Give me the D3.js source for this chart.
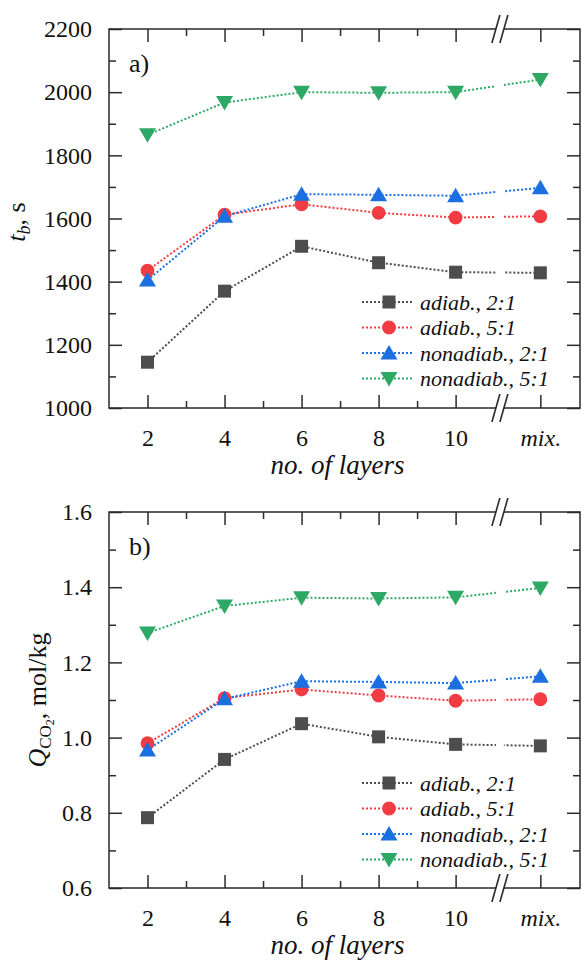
<!DOCTYPE html>
<html>
<head>
<meta charset="utf-8">
<script src="https://cdn.jsdelivr.net/npm/d3@7"></script>
<style>
  body { margin: 0; background: #fff; }
  svg, svg text { font-family: "Liberation Serif", "Times New Roman", Times, "DejaVu Serif", serif !important; fill: #111; }
</style>
</head>
<body>
<div id="chart"></div>
<script>
// categories (no. of layers), "mix." sits after the axis break
var layers = [2, 4, 6, 8, 10, 12.2]
var layerLabels = ["2", "4", "6", "8", "10", "mix."]
var minorLayers = [3, 5, 7, 9]

var seriesNames = ["adiab., 2:1", "adiab., 5:1", "nonadiab., 2:1", "nonadiab., 5:1"]
var seriesColors = ["#4d4d4d", "#f03c42", "#1b6fe0", "#2ea865"]
var seriesShapes = ["square", "circle", "triangle", "triangleDown"]

// panel a) breakthrough time t_b, s
var tbAdiab21 = [1145, 1370, 1512, 1460, 1430, 1428]
var tbAdiab51 = [1435, 1612, 1645, 1618, 1603, 1607]
var tbNonadiab21 = [1405, 1607, 1677, 1675, 1672, 1697]
var tbNonadiab51 = [1865, 1967, 2000, 1998, 2000, 2040]

// panel b) Q_CO2, mol/kg
var qAdiab21 = [0.787, 0.942, 1.037, 1.002, 0.982, 0.978]
var qAdiab51 = [0.985, 1.105, 1.128, 1.112, 1.098, 1.102]
var qNonadiab21 = [0.967, 1.103, 1.150, 1.148, 1.145, 1.163]
var qNonadiab51 = [1.278, 1.350, 1.372, 1.370, 1.373, 1.398]

var tbTicks = [1000, 1200, 1400, 1600, 1800, 2000, 2200]
var qTicks = [0.6, 0.8, 1.0, 1.2, 1.4, 1.6]

var serif = "'Liberation Serif', 'Times New Roman', Times, 'DejaVu Serif', serif"
var width = 582
var height = 961
var left = 109, right = 580
var breakAt = 11.15

var svg = d3.select("#chart").append("svg")
  .attr("width", width)
  .attr("height", height)
  .attr("font-family", serif)

var x = d3.scaleLinear().domain([1, 13.23]).range([left, right])

function drawPanel(opt) {
  var y = d3.scaleLinear().domain(opt.domain).range([opt.bottom, opt.top])
  var g = svg.append("g")
  var axisColor = "#2a2a2a"

  // minor ticks
  var minorY = d3.range(opt.domain[0] + opt.minor, opt.domain[1], opt.minor * 2)
  g.append("g").attr("transform", "translate(" + left + ",0)")
    .call(d3.axisLeft(y).tickValues(minorY).tickSize(-7).tickFormat(""))
  g.append("g").attr("transform", "translate(" + right + ",0)")
    .call(d3.axisRight(y).tickValues(minorY).tickSize(-7).tickFormat(""))
  g.append("g").attr("transform", "translate(0," + opt.bottom + ")")
    .call(d3.axisBottom(x).tickValues(minorLayers).tickSize(-7).tickFormat(""))
  g.append("g").attr("transform", "translate(0," + opt.top + ")")
    .call(d3.axisTop(x).tickValues(minorLayers).tickSize(-7).tickFormat(""))

  // major ticks
  g.append("g").attr("class", "yl").attr("transform", "translate(" + left + ",0)")
    .call(d3.axisLeft(y).tickValues(opt.ticks).tickSize(-13).tickPadding(17).tickFormat(opt.fmt))
  g.append("g").attr("transform", "translate(" + right + ",0)")
    .call(d3.axisRight(y).tickValues(opt.ticks).tickSize(-13).tickFormat(""))
  g.append("g").attr("class", "xl").attr("transform", "translate(0," + opt.bottom + ")")
    .call(d3.axisBottom(x).tickValues(layers).tickSize(-13).tickPadding(21)
      .tickFormat(function(d, i) { return layerLabels[i]; }))
  g.append("g").attr("transform", "translate(0," + opt.top + ")")
    .call(d3.axisTop(x).tickValues(layers).tickSize(-13).tickFormat(""))

  g.selectAll(".domain").remove()
  g.selectAll("g").attr("font-family", serif)
  g.selectAll(".tick line").attr("stroke", axisColor).attr("stroke-width", 1.5)
  g.selectAll(".yl text, .xl text").style("font-size", "24px").attr("fill", "#111")
  g.selectAll(".xl .tick").filter(function(d) { return d == 12.2; })
    .select("text").style("font-style", "italic")

  // frame
  g.append("rect")
    .attr("x", left).attr("y", opt.top)
    .attr("width", right - left).attr("height", opt.bottom - opt.top)
    .attr("fill", "none").attr("stroke", axisColor).attr("stroke-width", 1.5)

  // axis break marks
  var bx = x(breakAt)
  ;[opt.top, opt.bottom].forEach(function(yy) {
    g.append("rect").attr("x", bx - 4).attr("y", yy - 2).attr("width", 8).attr("height", 4).attr("fill", "#fff")
    ;[-4, 4].forEach(function(off) {
      g.append("line")
        .attr("x1", bx + off - 4).attr("y1", yy + 14)
        .attr("x2", bx + off + 4).attr("y2", yy - 14)
        .attr("stroke", axisColor).attr("stroke-width", 1.6)
    })
  })

  // clip out the break strip from the data lines
  var clipId = "clip" + opt.name
  var cp = svg.append("clipPath").attr("id", clipId)
  cp.append("rect").attr("x", 0).attr("y", 0).attr("width", bx - 4).attr("height", height)
  cp.append("rect").attr("x", bx + 4).attr("y", 0).attr("width", width).attr("height", height)

  var line = d3.line()
    .x(function(d, i) { return x(layers[i]); })
    .y(function(d) { return y(d); })

  opt.series.forEach(function(vals, s) {
    g.append("path")
      .datum(vals)
      .attr("clip-path", "url(#" + clipId + ")")
      .attr("fill", "none")
      .attr("stroke", seriesColors[s])
      .attr("stroke-width", 2)
      .attr("stroke-dasharray", "2,2")
      .attr("d", line)
  })
  opt.series.forEach(function(vals, s) {
    g.selectAll(".m" + s)
      .data(vals)
      .enter().append("path")
      .attr("transform", function(d, i) { return "translate(" + x(layers[i]) + "," + y(d) + ")"; })
      .attr("d", marker(seriesShapes[s]))
      .attr("fill", seriesColors[s])
  })

  // legend
  var lg = g.append("g")
  seriesNames.forEach(function(name, s) {
    var ly = opt.legendY + s * 25.5
    lg.append("line")
      .attr("x1", 362).attr("x2", 413).attr("y1", ly).attr("y2", ly)
      .attr("stroke", seriesColors[s]).attr("stroke-width", 2).attr("stroke-dasharray", "2,2")
    lg.append("path")
      .attr("transform", "translate(389," + ly + ")")
      .attr("d", marker(seriesShapes[s]))
      .attr("fill", seriesColors[s])
    lg.append("text")
      .attr("x", 420).attr("y", ly + 7.5)
      .style("font-size", "22px").style("font-style", "italic")
      .text(name)
  })

  // panel letter
  g.append("text").attr("x", 129).attr("y", opt.top + 43)
    .style("font-size", "26px").text(opt.name + ")")

  // x title
  g.append("text")
    .attr("x", (left + right) / 2 - 7).attr("y", opt.bottom + 66)
    .attr("text-anchor", "middle")
    .style("font-size", "27px").style("font-style", "italic")
    .text("no. of layers")

  return g
}

function marker(shape) {
  if (shape == "square") return "M-6.5,-6.5H6.5V6.5H-6.5Z"
  if (shape == "circle") return d3.symbol(d3.symbolCircle, 150)()
  if (shape == "triangle") return "M0,-8L8.5,6.5H-8.5Z"
  return "M0,8L8.5,-6.5H-8.5Z"
}

var ga = drawPanel({
  name: "a",
  top: 29, bottom: 408,
  domain: [1000, 2200], ticks: tbTicks, minor: 100,
  fmt: d3.format("d"),
  series: [tbAdiab21, tbAdiab51, tbNonadiab21, tbNonadiab51],
  legendY: 302
})

var gb = drawPanel({
  name: "b",
  top: 512, bottom: 888,
  domain: [0.6, 1.6], ticks: qTicks, minor: 0.1,
  fmt: d3.format(".1f"),
  series: [qAdiab21, qAdiab51, qNonadiab21, qNonadiab51],
  legendY: 783
})

// y titles
var ta = svg.append("text")
  .attr("transform", "translate(25,222) rotate(-90)")
  .attr("text-anchor", "middle")
  .style("font-size", "26px")
ta.append("tspan").style("font-style", "italic").text("t")
ta.append("tspan").style("font-style", "italic").style("font-size", "18px").attr("dy", 5).text("b")
ta.append("tspan").attr("dy", -5).text(", s")

var tb = svg.append("text")
  .attr("transform", "translate(46,700) rotate(-90)")
  .attr("text-anchor", "middle")
  .style("font-size", "26px")
tb.append("tspan").style("font-style", "italic").text("Q")
tb.append("tspan").style("font-size", "17px").attr("dy", 5).text("CO")
tb.append("tspan").style("font-size", "12px").attr("dy", 3).text("2")
tb.append("tspan").attr("dy", -8).text(", mol/kg")
</script>
</body>
</html>
